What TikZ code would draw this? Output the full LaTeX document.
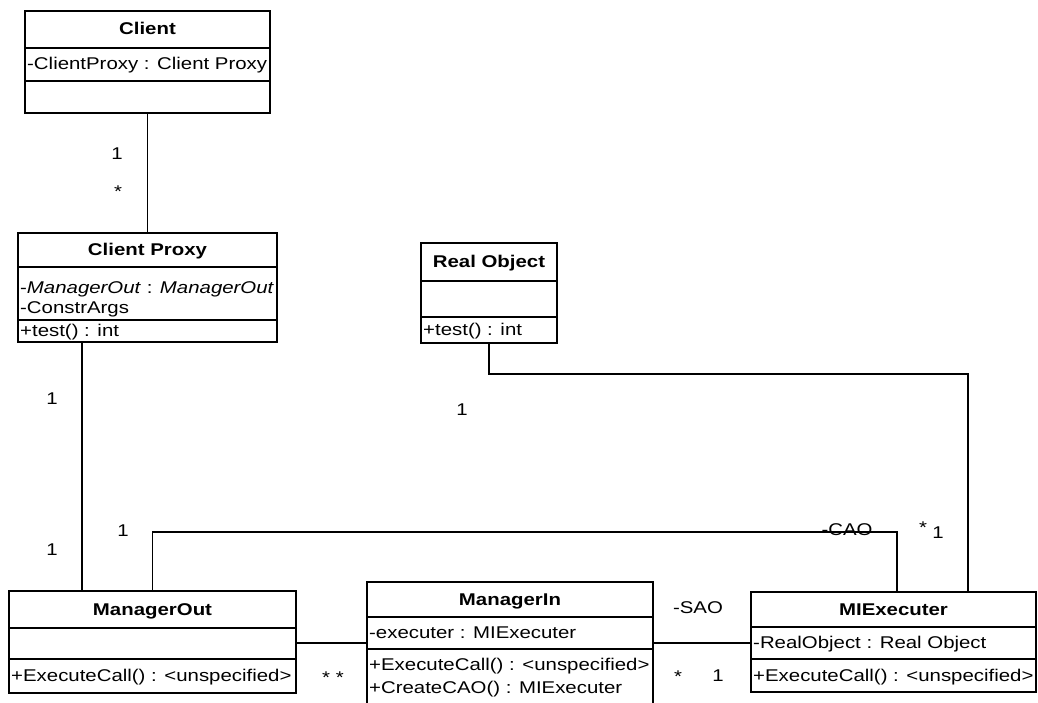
\documentclass[tikz,border=0pt]{standalone}
\usepackage{fontspec}
\setmainfont{Liberation Sans}[FakeStretch=1.2]
\begin{document}
\begin{tikzpicture}[x=1pt,y=-1pt,
  box/.style={draw, line width=1.4pt, anchor=north west, inner sep=0pt, outer sep=0pt},
  sep/.style={line width=1.2pt},
  conn/.style={line width=1.2pt},
  title/.style={font=\fontsize{17}{19}\selectfont\bfseries, inner sep=0pt, text height=13pt, text depth=2pt},
  member/.style={font=\fontsize{17}{19}\selectfont, anchor=west, inner sep=0pt, text height=13pt, text depth=2pt},
  mult/.style={font=\fontsize{17}{19}\selectfont, anchor=base, inner sep=0pt}]
\useasboundingbox (0,0) rectangle (1038,702);
\clip (0,0) rectangle (1038,702);

% Client
\node[box, minimum width=245pt, minimum height=102pt] (client) at (25,11) {};
\draw[sep] (25,48) -- (270,48);
\draw[sep] (25,81) -- (270,81);
\node[title] (tclient) at (147.5,29) {Client};
\node[member] (aclient) at (27,64) {-ClientProxy : Client Proxy};

% Client Proxy
\node[box, minimum width=259pt, minimum height=109pt] (cp) at (18,233) {};
\draw[sep] (18,267) -- (277,267);
\draw[sep] (18,320) -- (277,320);
\node[title] (tcp) at (147.5,250) {Client Proxy};
\node[member] (acp1) at (20,288) {-\textit{ManagerOut} : \textit{ManagerOut}};
\node[member] (acp2) at (20,308) {-ConstrArgs};
\node[member] (ocp) at (20,331) {+test() : int};

% Real Object
\node[box, minimum width=136pt, minimum height=100pt] (ro) at (421,243) {};
\draw[sep] (421,281) -- (557,281);
\draw[sep] (421,317) -- (557,317);
\node[title] (tro) at (489,262) {Real Object};
\node[member] (oro) at (423,330) {+test() : int};

% ManagerOut
\node[box, minimum width=287pt, minimum height=102pt] (mo) at (9,591) {};
\draw[sep] (9,628) -- (296,628);
\draw[sep] (9,659) -- (296,659);
\node[title] (tmo) at (152.5,610) {ManagerOut};
\node[member] (omo) at (11,676) {+ExecuteCall() : <unspecified>};

% ManagerIn
\node[box, minimum width=286pt, minimum height=140pt] (mi) at (367,582) {};
\draw[sep] (367,617) -- (653,617);
\draw[sep] (367,649) -- (653,649);
\node[title] (tmi) at (510,600) {ManagerIn};
\node[member] (ami) at (369,633) {-executer : MIExecuter};
\node[member] (omi1) at (369,665) {+ExecuteCall() : <unspecified>};
\node[member] (omi2) at (369,688) {+CreateCAO() : MIExecuter};

% MIExecuter
\node[box, minimum width=285pt, minimum height=100pt] (mie) at (751,592) {};
\draw[sep] (751,627) -- (1036,627);
\draw[sep] (751,659) -- (1036,659);
\node[title] (tmie) at (893.5,610) {MIExecuter};
\node[member] (amie) at (753,643) {-RealObject : Real Object};
\node[member] (omie) at (753,676) {+ExecuteCall() : <unspecified>};

% connectors
\coordinate (cpx) at (82,0);
\coordinate (cao2) at (897,532);
\coordinate (ro2) at (968,374);
\coordinate (yline) at (0,643);
\draw[conn] (client.south) -- (cp.north);
\draw[conn] (cp.south -| cpx) -- (mo.north -| cpx);
\draw[conn] (mo.north) |- (cao2) -- (mie.north -| cao2);
\draw[conn] (ro.south) |- (ro2) -- (mie.north -| ro2);
\draw[conn] (mo.east |- yline) -- (mi.west |- yline);
\draw[conn] (mi.east |- yline) -- (mie.west |- yline);

% multiplicities and roles
\node[mult] (m1) at (117,159) {1};
\node[mult] (m2) at (118,197) {*};
\node[mult] (m3) at (52,404) {1};
\node[mult] (m4) at (52,555) {1};
\node[mult] (m5) at (123,536) {1};
\node[mult] (m6) at (462,415) {1};
\node[mult] (m7) at (333,683) {* *};
\node[mult] (m8) at (698,613) {-SAO};
\node[mult] (m9) at (678,682) {*};
\node[mult] (m10) at (718,681) {1};
\node[mult] (m11) at (923,533) {*};
\node[mult] (m12) at (938,538) {1};
\node[mult] (m13) at (847,535) {-CAO};
\end{tikzpicture}
\end{document}
